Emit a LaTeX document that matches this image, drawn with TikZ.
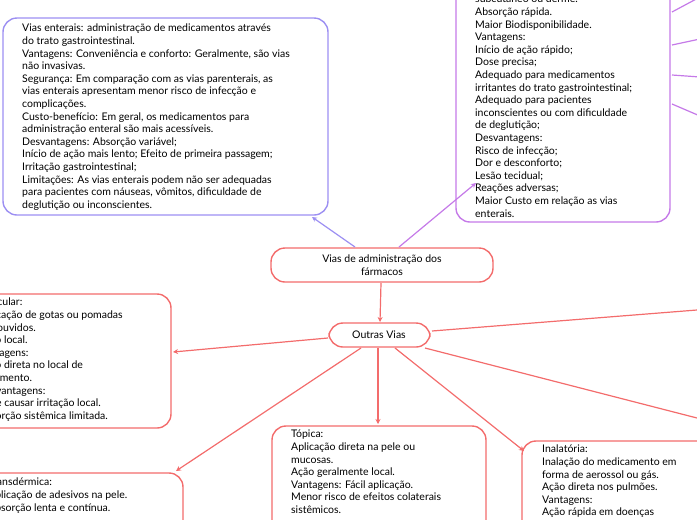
\documentclass[tikz,border=0pt]{standalone}
\usepackage{fontspec}
\setmainfont{Lato}
\usetikzlibrary{arrows.meta}
\definecolor{redline}{HTML}{F36C6C}
\definecolor{entline}{HTML}{9C8FF2}
\definecolor{parline}{HTML}{C57AE8}
\tikzset{
  box/.style={draw=#1, line width=1.4pt, rounded corners=14pt},
  txt/.style={anchor=north west, align=left, inner sep=0pt,
    font=\fontsize{10.5}{12.6}\selectfont},
  link/.style={draw=#1, line width=1.2pt, -{Stealth[length=5pt,width=5pt]}},
  edge/.style={draw=#1, line width=1.2pt}
}
\begin{document}
\begin{tikzpicture}[x=1pt,y=-1pt]
  \useasboundingbox (0,0) rectangle (697,520);
  \clip (0,0) rectangle (697,520);

  % boxes
  \draw[box=entline] (3,18) rectangle (328,215);
  \draw[box=parline] (456,-40) rectangle (670,222);
  \draw[box=redline] (271,248) rectangle (493,282);
  \draw[box=redline] (329,323) rectangle (430,347);
  \draw[box=redline] (-40,294) rectangle (171,428);
  \draw[box=redline] (-40,473) rectangle (183,560);
  \draw[box=redline] (272,426) rectangle (486,560);
  \draw[box=redline] (522,441) rectangle (740,560);

  % texts
  \node (root) at (382,265) [align=center, font=\fontsize{10.5}{12.6}\selectfont]
    {Vias de administração dos\\fármacos};
  \node (outras) at (379,335) [font=\fontsize{10.5}{12.6}\selectfont] {Outras Vias};
  \node (enteral) [txt] at (22,24) {Vias enterais: administração de medicamentos através\\
    do trato gastrointestinal.\\
    Vantagens: Conveniência e conforto: Geralmente, são vias\\
    não invasivas.\\
    Segurança: Em comparação com as vias parenterais, as\\
    vias enterais apresentam menor risco de infecção e\\
    complicações.\\
    Custo-benefício: Em geral, os medicamentos para\\
    administração enteral são mais acessíveis.\\
    Desvantagens: Absorção variável;\\
    Início de ação mais lento; Efeito de primeira passagem;\\
    Irritação gastrointestinal;\\
    Limitações: As vias enterais podem não ser adequadas\\
    para pacientes com náuseas, vômitos, dificuldade de\\
    deglutição ou inconscientes.};
  \node (parent) [txt] at (475,-5) {subcutâneo ou derme.\\
    Absorção rápida.\\
    Maior Biodisponibilidade.\\
    Vantagens:\\
    Início de ação rápido;\\
    Dose precisa;\\
    Adequado para medicamentos\\
    irritantes do trato gastrointestinal;\\
    Adequado para pacientes\\
    inconscientes ou com dificuldade\\
    de deglutição;\\
    Desvantagens:\\
    Risco de infecção;\\
    Dor e desconforto;\\
    Lesão tecidual;\\
    Reações adversas;\\
    Maior Custo em relação as vias\\
    enterais.};
  \node (auric) [txt] at (-22,298) {Auricular:\\
    Aplicação de gotas ou pomadas\\
    nos ouvidos.\\
    Ação local.\\
    Vantagens:\\
    Ação direta no local de\\
    tratamento.\\
    Desvantagens:\\
    Pode causar irritação local.\\
    Absorção sistêmica limitada.};
  \node (transd) [txt] at (-12,478) {Transdérmica:\\
    Aplicação de adesivos na pele.\\
    Absorção lenta e contínua.};
  \node (topica) [txt] at (291,430) {Tópica:\\
    Aplicação direta na pele ou\\
    mucosas.\\
    Ação geralmente local.\\
    Vantagens: Fácil aplicação.\\
    Menor risco de efeitos colaterais\\
    sistêmicos.};
  \node (inal) [txt] at (542,445) {Inalatória:\\
    Inalação do medicamento em\\
    forma de aerossol ou gás.\\
    Ação direta nos pulmões.\\
    Vantagens:\\
    Ação rápida em doenças};

  % connectors
  \coordinate (rootL) at (355,247);
  \coordinate (rootR) at (399,247);
  \coordinate (entIn) at (312,217);
  \coordinate (parIn) at (476,183);
  \draw[link=entline] (rootL) -- (entIn);
  \draw[link=parline] (rootR) -- (parIn);
  \draw[link=redline] (381,283) -- (380,322);
  \draw[link=redline] (328,338) -- (173,352);
  \draw[link=redline] (361,348) -- (176,471);
  \draw[link=redline] (378,348) -- (378,424);
  \draw[link=redline] (395,348) -- (524,451);
  \draw[edge=redline] (432,331) -- (697,310);
  \draw[edge=redline] (425,348) -- (697,418);
  \draw[edge=parline] (672,12) -- (700,-3);
  \draw[edge=parline] (672,45) -- (700,39);
  \draw[edge=parline] (672,75) -- (700,77);
  \draw[edge=parline] (672,104) -- (700,116);
\end{tikzpicture}
\end{document}
